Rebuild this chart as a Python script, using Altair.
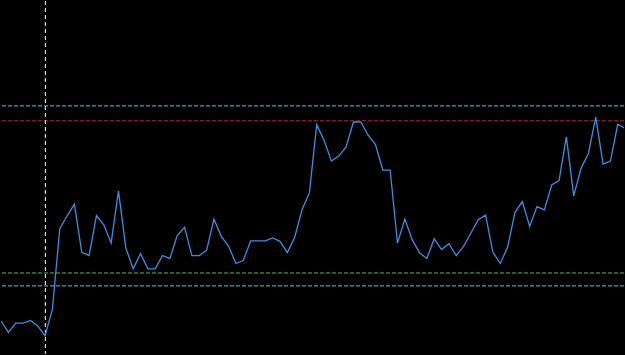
import altair as alt
import pandas as pd

# values (index along x, level on an arbitrary 0..355 scale)
levels = [33.3, 21.7, 31.0, 31.0, 33.7, 28.3, 18.3, 45.0, 125.7, 139.0,
          150.7, 102.3, 99.0, 139.3, 130.0, 111.7, 164.0, 106.7, 85.7, 101.0,
          85.7, 85.7, 99.0, 96.0, 119.0, 127.3, 99.0, 99.0, 104.3, 135.7,
          118.3, 108.3, 91.0, 94.0, 113.7, 113.7, 113.7, 116.7, 113.3, 102.0,
          117.5, 145.0, 162.0, 230.7, 215.0, 194.0, 199.0, 208.3, 233.3, 233.3,
          220.0, 210.7, 185.0, 185.0, 111.5, 135.7, 115.0, 101.7, 96.0, 116.0,
          105.0, 111.0, 99.0, 108.3, 121.7, 135.0, 139.7, 102.3, 91.0, 107.5,
          142.5, 153.3, 128.3, 148.3, 145.0, 170.0, 174.3, 218.3, 159.0, 186.7,
          201.7, 238.3, 191.0, 194.0, 231.0, 227.0]
index = list(range(len(levels)))

band_values = [249.5, 234.5, 81.5, 68.5]
band_colors = ["#48cce0", "#c02828", "#48c048", "#48cce0"]
marker_index = [6]

W, H = 625, 355
xs = alt.Scale(domain=[0, 84.85], nice=False, zero=False)
ys = alt.Scale(domain=[0, 355], nice=False, zero=False)

df = pd.DataFrame({"i": index, "v": levels})
bands = pd.DataFrame({"v": band_values, "c": band_colors})
marks = pd.DataFrame({"i": marker_index})

line = alt.Chart(df).mark_line(color="#3b8ee0", strokeWidth=1.3, clip=True).encode(
    x=alt.X("i:Q", scale=xs, axis=None),
    y=alt.Y("v:Q", scale=ys, axis=None),
)

hrules = alt.Chart(bands).mark_rule(strokeDash=[4, 2], strokeWidth=1).encode(
    y=alt.Y("v:Q", scale=ys, axis=None),
    color=alt.Color("c:N", scale=None, legend=None),
)

vrule = alt.Chart(marks).mark_rule(strokeDash=[4, 3], strokeWidth=1, color="#ffffff", xOffset=0.3).encode(
    x=alt.X("i:Q", scale=xs, axis=None),
)

chart = alt.layer(hrules, vrule, line).properties(
    width=W, height=H, background="#000000", padding=0,
    autosize=alt.AutoSizeParams(type="fit", contains="padding"),
).configure_view(stroke=None, fill="#000000")

chart.save("out.html", embed_options={"renderer": "svg", "actions": False})
